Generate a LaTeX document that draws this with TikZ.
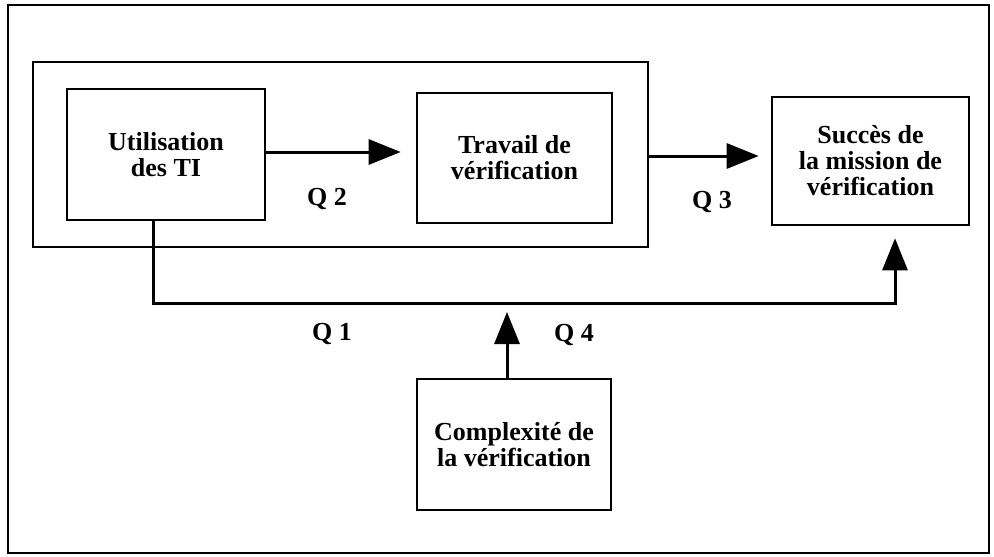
\documentclass[tikz,border=0pt]{standalone}
\usepackage{fontspec}
\setmainfont{Liberation Serif}
\usetikzlibrary{arrows.meta}
\tikzset{
  box/.style={draw, line width=2.6pt, rectangle, inner sep=0pt, align=center,
    font=\fontsize{26}{26}\selectfont\bfseries},
  lbl/.style={anchor=base, inner sep=0pt, font=\fontsize{26}{26}\selectfont\bfseries},
  arr/.style={line width=3pt, -{Triangle[length=32pt,width=25pt]}},
  frame/.style={draw, line width=2.4pt}
}
\begin{document}
\begin{tikzpicture}[x=1pt,y=-1pt]
\useasboundingbox (0,0) rectangle (994,557);
% outer frame
\node[frame, minimum width=981pt, minimum height=548pt, inner sep=0pt] (outer) at (498.5,279) {};
% inner group frame
\node[frame, line width=2.6pt, minimum width=615pt, minimum height=185pt, inner sep=0pt] (grp) at (340.5,154.5) {};
% boxes
\node[box, minimum width=198pt, minimum height=131pt] (util) at (166,154.5) {Utilisation\\des TI};
\node[box, minimum width=195pt, minimum height=130pt] (trav) at (514.5,158) {Travail de\\vérification};
\node[box, minimum width=197pt, minimum height=128pt] (succ) at (870.5,161) {Succès de\\la mission de\\vérification};
\node[box, minimum width=194pt, minimum height=131pt] (cplx) at (514,444.5) {Complexité de\\la vérification};
% connectors
\draw[arr, shorten >=15pt] ([yshift=2.5pt]util.east) -- ([yshift=2.5pt]util.east -| trav.west);
\draw[arr, shorten >=12pt] ([yshift=-1.5pt]grp.east) -- ([yshift=-1.5pt]grp.east -| succ.west);
\draw[arr, shorten >=12pt, rounded corners=0pt] ([xshift=-13pt]util.south) -- ++(0,82) -| ([xshift=24.5pt]succ.south);
\coordinate (q4tip) at (507,312);
\draw[arr] ([xshift=-7pt]cplx.north) -- (q4tip);
% labels
\node[lbl] (q2) at (327,205) {Q 2};
\node[lbl] (q3) at (712,208) {Q 3};
\node[lbl] (q1) at (332,340) {Q 1};
\node[lbl] (q4) at (574,341) {Q 4};
\end{tikzpicture}
\end{document}
